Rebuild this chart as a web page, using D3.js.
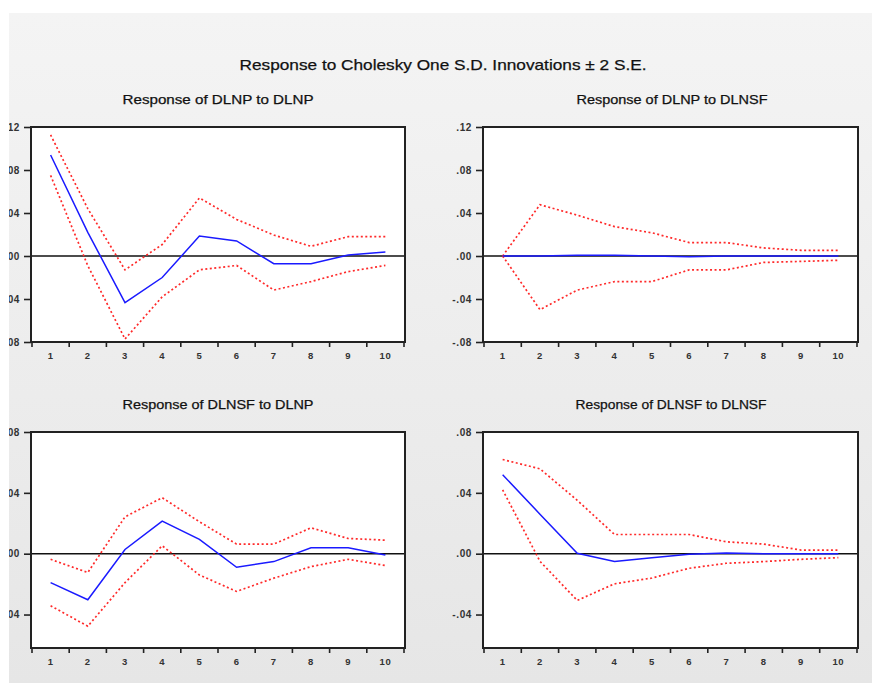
<!DOCTYPE html>
<html><head><meta charset="utf-8">
<script src="https://cdn.jsdelivr.net/npm/d3@7"></script>
<style>
body{margin:0;background:#fff}
svg{display:block}
text{font-family:"Liberation Sans",Arial,sans-serif}
</style>
</head><body>
<svg id="c" width="872" height="683"></svg>
<script>
// ---------- data ----------
const periods = ["1","2","3","4","5","6","7","8","9","10"];
const mainTitle = "Response to Cholesky One S.D. Innovations \u00B1 2 S.E.";
const panelTitles = ["Response of DLNP to DLNP","Response of DLNP to DLNSF","Response of DLNSF to DLNP","Response of DLNSF to DLNSF"];
const topTicks = [0.12, 0.08, 0.04, 0.00, -0.04, -0.08];
const bottomTicks = [0.08, 0.04, 0.00, -0.04];

// Response of DLNP to DLNP
const pp = [0.094, 0.022, -0.0433, -0.020, 0.0185, 0.014, -0.0072, -0.0072, 0.001, 0.0038];
const ppUp = [0.1126, 0.044, -0.0129, 0.0107, 0.054, 0.034, 0.0195, 0.009, 0.018, 0.018];
const ppLo = [0.075, -0.009, -0.0772, -0.038, -0.0129, -0.0088, -0.0317, -0.0238, -0.0145, -0.0088];
// Response of DLNP to DLNSF
const pf = [0, 0, 0.0008, 0.0008, 0, -0.0008, 0, 0, 0, 0];
const pfUp = [0, 0.0477, 0.038, 0.0273, 0.0216, 0.0125, 0.0125, 0.0075, 0.0053, 0.0053];
const pfLo = [0, -0.0499, -0.0317, -0.0238, -0.0238, -0.0129, -0.0129, -0.006, -0.005, -0.004];
// Response of DLNSF to DLNP
const fp = [-0.019, -0.0303, 0.0028, 0.0214, 0.0094, -0.0089, -0.0052, 0.0039, 0.0039, -0.0009];
const fpUp = [-0.0037, -0.0124, 0.0242, 0.0368, 0.021, 0.0063, 0.0063, 0.017, 0.010, 0.0089];
const fpLo = [-0.0342, -0.0477, -0.019, 0.0052, -0.014, -0.0248, -0.0161, -0.0085, -0.0037, -0.0078];
// Response of DLNSF to DLNSF
const ff = [0.0519, 0.026, 0.0003, -0.0052, -0.0026, -0.0004, 0.0004, 0, 0, 0];
const ffUp = [0.0619, 0.0558, 0.0351, 0.0126, 0.0126, 0.0126, 0.0078, 0.0063, 0.0024, 0.0024];
const ffLo = [0.042, -0.005, -0.0307, -0.0198, -0.016, -0.0096, -0.0063, -0.0052, -0.0037, -0.0026];

// ---------- layout ----------
const svg = d3.select("#c");
const defs = svg.append("defs");
const grad = defs.append("linearGradient").attr("id","bg").attr("x1",0).attr("y1",0).attr("x2",0).attr("y2",1);
grad.append("stop").attr("offset","0%").attr("stop-color","#f4f4f4");
grad.append("stop").attr("offset","100%").attr("stop-color","#e6e6e6");
defs.append("clipPath").attr("id","area").append("rect").attr("x",9).attr("y",13).attr("width",863).attr("height",670);

svg.append("rect").attr("width",872).attr("height",683).attr("fill","#fff");
const root = svg.append("g").attr("clip-path","url(#area)");
root.append("rect").attr("x",9).attr("y",13).attr("width",863).attr("height",670).attr("fill","url(#bg)");

root.append("text").attr("x",443).attr("y",70).attr("text-anchor","middle")
  .attr("font-size",15).attr("fill","#111").attr("stroke","#111").attr("stroke-width",0.25)
  .attr("textLength",407).attr("lengthAdjust","spacingAndGlyphs")
  .text(mainTitle);

const fmt = d => (d < 0 ? "-" : "") + d3.format(".2f")(Math.abs(d)).replace(/^0/, "");

const panels = [
  {title: panelTitles[0], x0:31, x1:405, y0:127, y1:342, dom:[-0.08,0.12], ticks: topTicks, mid: pp, up: ppUp, lo: ppLo, tx:218, ty:104},
  {title: panelTitles[1], x0:483, x1:858, y0:127, y1:342, dom:[-0.08,0.12], ticks: topTicks, mid: pf, up: pfUp, lo: pfLo, tx:672, ty:104},
  {title: panelTitles[2], x0:31, x1:405, y0:432, y1:648, dom:[-0.062,0.08], ticks: bottomTicks, mid: fp, up: fpUp, lo: fpLo, tx:218, ty:409},
  {title: panelTitles[3], x0:483, x1:858, y0:432, y1:648, dom:[-0.062,0.08], ticks: bottomTicks, mid: ff, up: ffUp, lo: ffLo, tx:671, ty:409}
];

panels.forEach(p => {
  const g = root.append("g");
  const x = d3.scaleBand().domain(periods).range([p.x0 + 1, p.x1 - 1]);
  const y = d3.scaleLinear().domain(p.dom).range([p.y1, p.y0]);
  const cx = i => x(periods[i]) + x.bandwidth() / 2;

  g.append("text").attr("x", p.tx).attr("y", p.ty).attr("text-anchor","middle")
    .attr("font-size",13).attr("fill","#111").attr("stroke","#111").attr("stroke-width",0.25)
    .attr("textLength",191).attr("lengthAdjust","spacingAndGlyphs")
    .text(p.title);

  g.append("rect").attr("x",p.x0).attr("y",p.y0).attr("width",p.x1-p.x0).attr("height",p.y1-p.y0)
    .attr("fill","#fff");

  // zero line
  g.append("line").attr("x1",p.x0).attr("x2",p.x1).attr("y1",y(0)).attr("y2",y(0))
    .attr("stroke","#111").attr("stroke-width",1.6);

  const line = d3.line().x((d,i) => cx(i)).y(d => y(d));
  [p.up, p.lo].forEach(s => {
    g.append("path").attr("d", line(s)).attr("fill","none").attr("stroke","#ff2a2a")
      .attr("stroke-width",1.7).attr("stroke-dasharray","2,2.5");
  });
  g.append("path").attr("d", line(p.mid)).attr("fill","none").attr("stroke","#1a1aff").attr("stroke-width",1.5);

  // frame
  g.append("rect").attr("x",p.x0).attr("y",p.y0).attr("width",p.x1-p.x0).attr("height",p.y1-p.y0)
    .attr("fill","none").attr("stroke","#222").attr("stroke-width",2);

  // y axis
  const ya = g.append("g").attr("transform",`translate(${p.x0},0)`)
    .call(d3.axisLeft(y).tickValues(p.ticks).tickFormat(fmt).tickSize(7).tickPadding(4));
  ya.select(".domain").remove();
  ya.selectAll(".tick line").attr("stroke","#222").attr("stroke-width",1.6);
  ya.selectAll(".tick text").attr("font-family",'"Liberation Sans",Arial,sans-serif')
    .attr("font-size",10).attr("font-weight","bold").attr("fill","#333").attr("letter-spacing",0.6);

  // x axis ticks at band edges
  const edges = periods.map(d => x(d)).concat([x(periods[periods.length-1]) + x.bandwidth()]);
  g.selectAll(".xt").data(edges).join("line").attr("class","xt")
    .attr("x1", d => d).attr("x2", d => d).attr("y1", p.y1).attr("y2", p.y1 + 5)
    .attr("stroke","#222").attr("stroke-width",1.6);
  g.selectAll(".xl").data(periods).join("text").attr("class","xl")
    .attr("x", d => x(d) + x.bandwidth()/2).attr("y", p.y1 + 17).attr("text-anchor","middle")
    .attr("font-size",9.5).attr("font-weight","bold").attr("fill","#333").attr("letter-spacing",0.6)
    .text(d => d);
});
</script>
</body></html>
